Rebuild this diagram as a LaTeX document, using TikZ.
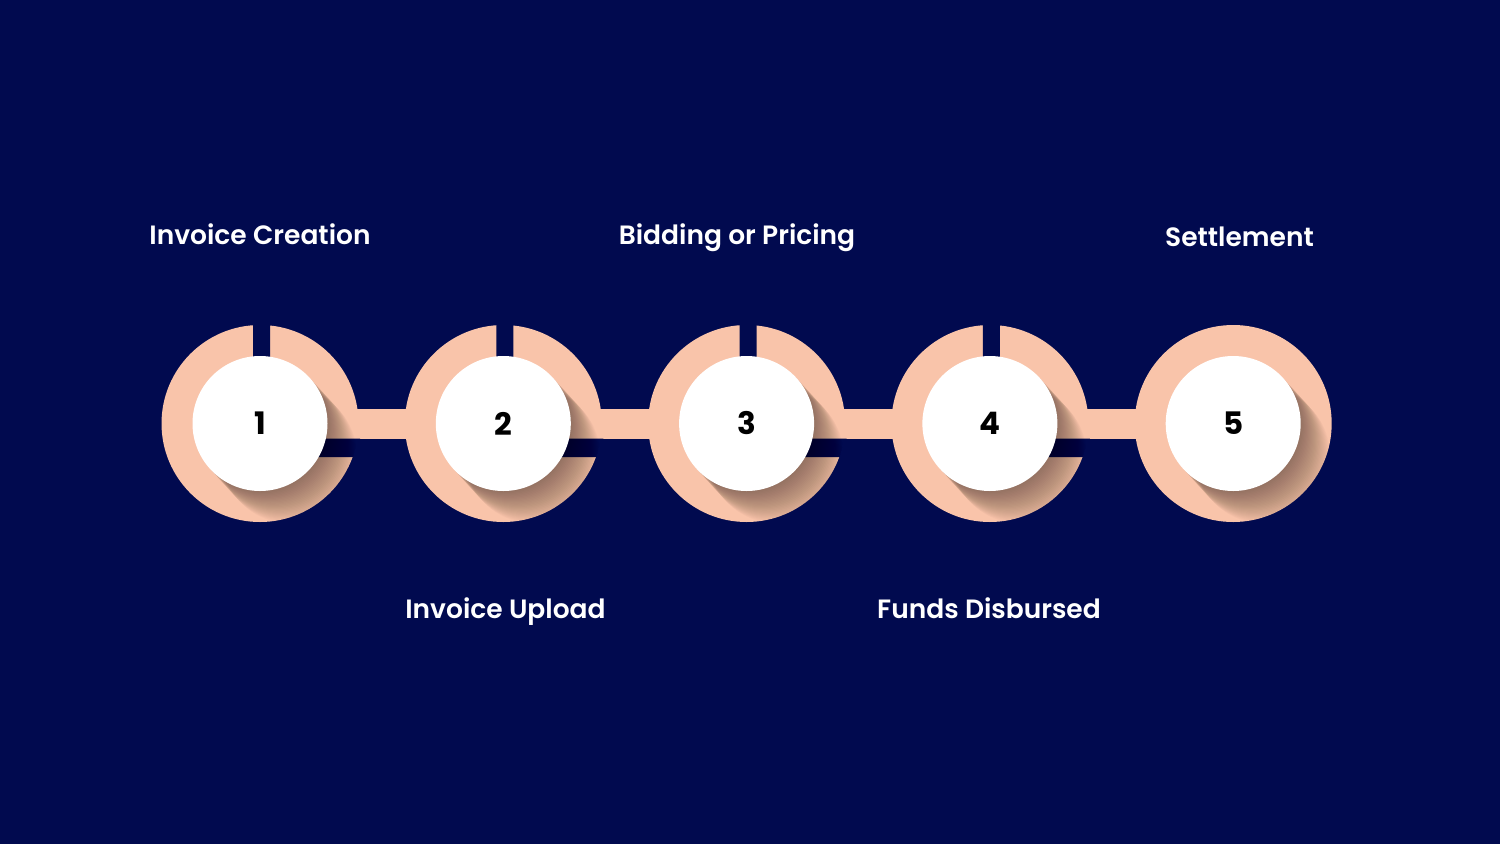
\documentclass[tikz,border=0pt]{standalone}
\usepackage{fontspec}
\setmainfont{Poppins}[BoldFont={* SemiBold}]
\newfontfamily\numfamily{Poppins}[UprightFont={* Bold}]
\definecolor{bgc}{HTML}{010A4F}
\definecolor{ringc}{HTML}{F9C4AA}
\begin{document}
\begin{tikzpicture}[x=1pt,y=-1pt,
 bar/.style={draw=ringc,line width=30pt},
 disc/.style={circle,fill=white,minimum size=135pt,inner sep=0pt,
  font=\numfamily\fontsize{31}{31}\selectfont},
 stage/.style={text=white,anchor=base,font=\bfseries\fontsize{26.5}{30}\selectfont},
 ring/.pic={\fill[ringc] (0,0) circle (98.5);},
 cut/.pic={\fill[bgc] (-7,-100) rectangle (10,-60) (0,15) rectangle (100,33.5);},
 shade/.pic={\begin{scope}
  \clip (0,0) circle (98.5);
  \foreach \k in {1,...,28}
   \fill[black,opacity=.016] (\k*1.05,\k*1.15) circle (67.5);
  \end{scope}}]
 \fill[bgc] (0,0) rectangle (1500,844);
 \useasboundingbox (0,0) rectangle (1500,844);
 \path
 (260,423.5) coordinate (A) % <<< vong 1
 ++(0:243.3) coordinate (B)
 ++(0:243.3) coordinate (C)
 ++(0:243.3) coordinate (D)
 ++(0:243.3) coordinate (E);
 \draw[bar] (A)--(B) (B)--(C) (C)--(D) (D)--(E);
 \path
 (A) pic{ring} pic{cut}
 (B) pic{ring} pic{cut}
 (C) pic{ring} pic{cut}
 (D) pic{ring} pic{cut}
 (E) pic{ring};
 \path (A) pic{shade} (B) pic{shade} (C) pic{shade} (D) pic{shade} (E) pic{shade};
 \node[disc] (n1) at (A) {1};
 \node[disc] (n2) at (B) {2};
 \node[disc] (n3) at (C) {3};
 \node[disc] (n4) at (D) {4};
 \node[disc] (n5) at (E) {5};
 \path
 (260,244) node[stage] (l1) {Invoice Creation} % <<< tren
 (737,244) node[stage] (l3) {Bidding or Pricing}
 (1239.5,246) node[stage] (l5) {Settlement}
 (505.5,618) node[stage] (l2) {Invoice Upload} % <<< duoi
 (989,618) node[stage] (l4) {Funds Disbursed};
\end{tikzpicture}
\end{document}
